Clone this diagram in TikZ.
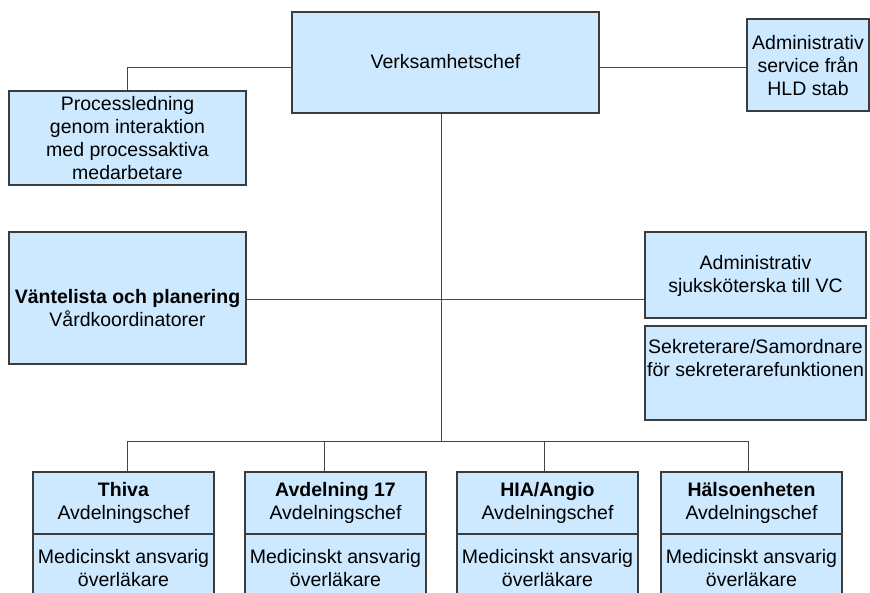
\documentclass[tikz,border=0pt]{standalone}
\usepackage{fontspec}
\setmainfont{Liberation Sans}
\definecolor{boxfill}{RGB}{204,233,255}
\definecolor{boxline}{RGB}{60,60,60}
\definecolor{conline}{RGB}{70,70,70}
\tikzset{
  orgbox/.style={draw=boxline, fill=boxfill, line width=1.2pt, inner sep=0pt},
  txt/.style={align=center, inner sep=0pt, font=\fontsize{19.5}{23}\selectfont},
  con/.style={draw=conline, line width=1pt}
}
\begin{document}
\begin{tikzpicture}[x=1pt,y=-1pt]
\useasboundingbox (0,0) rectangle (870,593);
\clip (0,0) rectangle (870,593);
% boxes
\node[orgbox, minimum width=307, minimum height=101] (vc) at (445.5,62.5) {};
\node[orgbox, minimum width=237, minimum height=94] (proc) at (127.5,138) {};
\node[orgbox, minimum width=122, minimum height=92] (hld) at (808,65) {};
\node[orgbox, minimum width=237, minimum height=132] (vant) at (127.5,298) {};
\node[orgbox, minimum width=221, minimum height=86] (adm) at (755.5,275) {};
\node[orgbox, minimum width=221, minimum height=94] (sek) at (755.5,373) {};
% bottom boxes
\foreach \n/\x in {thiva/123.5, avd/335.5, hia/547.5, hals/751.5}{
  \node[orgbox, minimum width=181, minimum height=62] (\n) at (\x,503) {};
  \node[orgbox, minimum width=181, minimum height=66] (\n B) at (\x,567) {};
}
% texts
\node[txt] (vcT) at (445.5,62) {Verksamhetschef};
\node[txt] (procT) at (127.5,138) {Processledning\\genom interaktion\\med processaktiva\\medarbetare};
\node[txt] (hldT) at (808,66) {Administrativ\\service från\\HLD stab};
\node[txt] (vantT) at (127.5,308) {\textbf{Väntelista och planering}\\Vårdkoordinatorer};
\node[txt] (admT) at (755.5,276) {Administrativ\\sjuksköterska till VC};
\node[txt] (sekT) at (755.5,358) {Sekreterare/Samordnare\\för sekreterarefunktionen};
\foreach \n/\t in {thiva/{Thiva}, avd/{Avdelning 17}, hia/{HIA/Angio}, hals/{Hälsoenheten}}{
  \node[txt] (\n T) at (\n) {\textbf{\t}\\Avdelningschef};
  \node[txt] (\n BT) at ([yshift=-1]\n B) {Medicinskt ansvarig\\överläkare};
}
% connector coordinates
\coordinate (topL) at (127,68);
\coordinate (mid) at (441,300);
\coordinate (bus) at (441,441);
\coordinate (b1) at (127,441);
\coordinate (b2) at (324,441);
\coordinate (b3) at (544,441);
\coordinate (b4) at (748,441);
% connectors
\draw[con] (vc.west |- topL) -| (proc.north);
\draw[con] (vc.east |- topL) -- (hld.west |- topL);
\draw[con] (vc.south -| mid) -- (bus);
\draw[con] (vant.east |- mid) -- (adm.west |- mid);
\draw[con] (b1) -- (b4);
\draw[con] (b1) -- (b1 |- thiva.north);
\draw[con] (b2) -- (b2 |- avd.north);
\draw[con] (b3) -- (b3 |- hia.north);
\draw[con] (b4) -- (b4 |- hals.north);
\end{tikzpicture}
\end{document}
